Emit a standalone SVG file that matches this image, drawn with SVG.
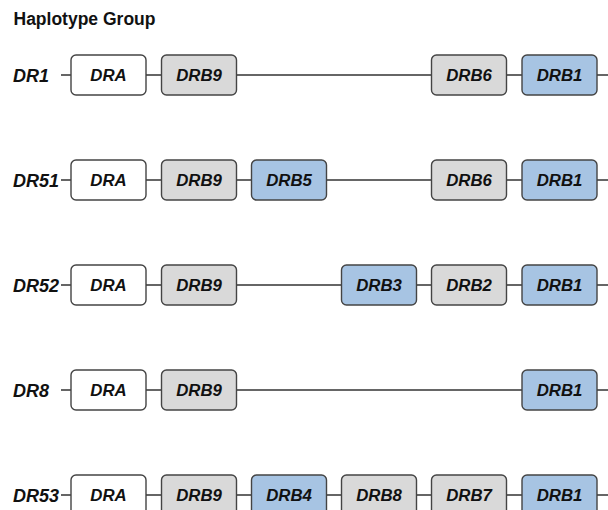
<svg xmlns="http://www.w3.org/2000/svg" width="608" height="510" viewBox="0 0 608 510">
  <style>
    .title { font-family: "Liberation Sans", Arial, sans-serif; font-weight: bold; font-size: 17.5px; fill: #111; }
    .hap { font-family: "Liberation Sans", Arial, sans-serif; font-weight: bold; font-style: italic; font-size: 18px; fill: #111; }
    .gene rect { stroke: #444; stroke-width: 1.4; }
    .gene text { font-family: "Liberation Sans", Arial, sans-serif; font-weight: bold; font-style: italic; font-size: 16.8px; fill: #111; text-anchor: middle; }
    .alpha rect { fill: #ffffff; }
    .pseudo rect { fill: #d9d9d9; }
    .expr rect { fill: #a7c4e3; }
    .chain line { stroke: #333; stroke-width: 1.3; }
  </style>

  <rect width="608" height="510" fill="#ffffff"/>
  <text class="title" x="13.5" y="25">Haplotype Group</text>

  <!-- backbone lines for each haplotype -->
  <g id="connectors" class="chain">
    <line x1="61" y1="75" x2="608" y2="75"/>
    <line x1="61" y1="180" x2="608" y2="180"/>
    <line x1="61" y1="285" x2="608" y2="285"/>
    <line x1="61" y1="390" x2="608" y2="390"/>
    <line x1="61" y1="495" x2="608" y2="495"/>
  </g>

  <!-- haplotype labels -->
  <g id="labels">
    <text class="hap" x="13" y="81.5">DR1</text>
    <text class="hap" x="13" y="186.5">DR51</text>
    <text class="hap" x="13" y="291.5">DR52</text>
    <text class="hap" x="13" y="396.5">DR8</text>
    <text class="hap" x="13" y="501.5">DR53</text>
  </g>

  <!-- DR1 -->
  <g id="dr1-dra" class="gene alpha"><rect x="71" y="55" width="75" height="40" rx="5"/><text x="108.5" y="81">DRA</text></g>
  <g id="dr1-drb9" class="gene pseudo"><rect x="161.5" y="55" width="75" height="40" rx="5"/><text x="199" y="81">DRB9</text></g>
  <g id="dr1-drb6" class="gene pseudo"><rect x="431.5" y="55" width="75" height="40" rx="5"/><text x="469" y="81">DRB6</text></g>
  <g id="dr1-drb1" class="gene expr"><rect x="522" y="55" width="75" height="40" rx="5"/><text x="559.5" y="81">DRB1</text></g>

  <!-- DR51 -->
  <g id="dr51-dra" class="gene alpha"><rect x="71" y="160" width="75" height="40" rx="5"/><text x="108.5" y="186">DRA</text></g>
  <g id="dr51-drb9" class="gene pseudo"><rect x="161.5" y="160" width="75" height="40" rx="5"/><text x="199" y="186">DRB9</text></g>
  <g id="dr51-drb5" class="gene expr"><rect x="251.5" y="160" width="75" height="40" rx="5"/><text x="289" y="186">DRB5</text></g>
  <g id="dr51-drb6" class="gene pseudo"><rect x="431.5" y="160" width="75" height="40" rx="5"/><text x="469" y="186">DRB6</text></g>
  <g id="dr51-drb1" class="gene expr"><rect x="522" y="160" width="75" height="40" rx="5"/><text x="559.5" y="186">DRB1</text></g>

  <!-- DR52 -->
  <g id="dr52-dra" class="gene alpha"><rect x="71" y="265" width="75" height="40" rx="5"/><text x="108.5" y="291">DRA</text></g>
  <g id="dr52-drb9" class="gene pseudo"><rect x="161.5" y="265" width="75" height="40" rx="5"/><text x="199" y="291">DRB9</text></g>
  <g id="dr52-drb3" class="gene expr"><rect x="341.5" y="265" width="75" height="40" rx="5"/><text x="379" y="291">DRB3</text></g>
  <g id="dr52-drb2" class="gene pseudo"><rect x="431.5" y="265" width="75" height="40" rx="5"/><text x="469" y="291">DRB2</text></g>
  <g id="dr52-drb1" class="gene expr"><rect x="522" y="265" width="75" height="40" rx="5"/><text x="559.5" y="291">DRB1</text></g>

  <!-- DR8 -->
  <g id="dr8-dra" class="gene alpha"><rect x="71" y="370" width="75" height="40" rx="5"/><text x="108.5" y="396">DRA</text></g>
  <g id="dr8-drb9" class="gene pseudo"><rect x="161.5" y="370" width="75" height="40" rx="5"/><text x="199" y="396">DRB9</text></g>
  <g id="dr8-drb1" class="gene expr"><rect x="522" y="370" width="75" height="40" rx="5"/><text x="559.5" y="396">DRB1</text></g>

  <!-- DR53 -->
  <g id="dr53-dra" class="gene alpha"><rect x="71" y="475" width="75" height="40" rx="5"/><text x="108.5" y="501">DRA</text></g>
  <g id="dr53-drb9" class="gene pseudo"><rect x="161.5" y="475" width="75" height="40" rx="5"/><text x="199" y="501">DRB9</text></g>
  <g id="dr53-drb4" class="gene expr"><rect x="251.5" y="475" width="75" height="40" rx="5"/><text x="289" y="501">DRB4</text></g>
  <g id="dr53-drb8" class="gene pseudo"><rect x="341.5" y="475" width="75" height="40" rx="5"/><text x="379" y="501">DRB8</text></g>
  <g id="dr53-drb7" class="gene pseudo"><rect x="431.5" y="475" width="75" height="40" rx="5"/><text x="469" y="501">DRB7</text></g>
  <g id="dr53-drb1" class="gene expr"><rect x="522" y="475" width="75" height="40" rx="5"/><text x="559.5" y="501">DRB1</text></g>
</svg>
